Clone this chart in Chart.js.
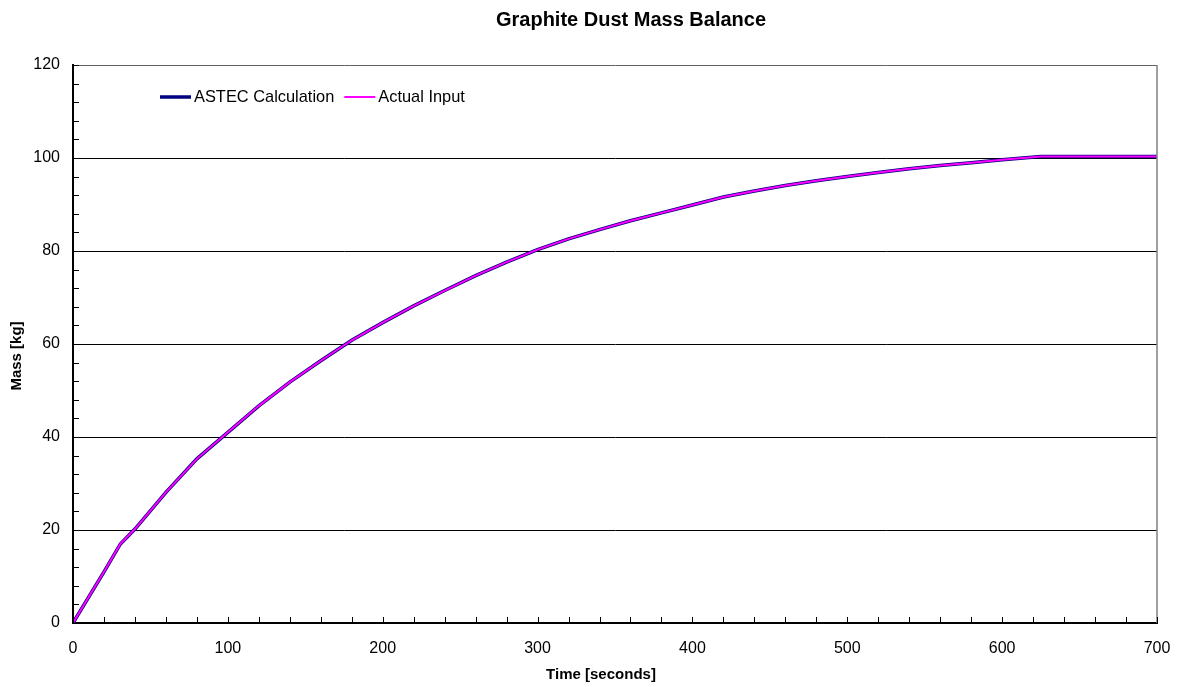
<!DOCTYPE html>
<html>
<head>
<meta charset="utf-8">
<script src="https://cdn.jsdelivr.net/npm/chart.js@4.4.1/dist/chart.umd.min.js"></script>
<style>
  html, body { margin: 0; padding: 0; background: #ffffff; }
  #wrap { width: 1181px; height: 687px; }
</style>
</head>
<body>
<div id="wrap"><canvas id="c" width="1181" height="687"></canvas></div>
<script>
// Time samples (s) and cumulative graphite dust mass (kg)
const timeSeconds = [0, 20, 30.6, 40, 60, 80, 100, 120, 140, 160, 180, 200, 220, 240, 260, 280, 300,
  320, 340, 360, 380, 400, 420, 440, 460, 480, 500, 520, 540, 560, 580, 600, 625, 700];
const astecMass = [0, 11.0, 17.0, 20.2, 28.1, 35.3, 41.0, 46.7, 51.8, 56.4, 60.8, 64.6, 68.2, 71.5, 74.7, 77.6, 80.3,
  82.6, 84.6, 86.5, 88.2, 89.9, 91.6, 92.9, 94.1, 95.1, 96.0, 96.9, 97.7, 98.4, 99.0, 99.6, 100.3, 100.3];
const actualInputMass = [0, 11.0, 17.0, 20.2, 28.1, 35.3, 41.0, 46.7, 51.8, 56.4, 60.8, 64.6, 68.2, 71.5, 74.7, 77.6, 80.3,
  82.6, 84.6, 86.5, 88.2, 89.9, 91.6, 92.9, 94.1, 95.1, 96.0, 96.9, 97.7, 98.4, 99.0, 99.6, 100.3, 100.3];

const xTickValues = [0, 100, 200, 300, 400, 500, 600, 700];
const yTickValues = [0, 20, 40, 60, 80, 100, 120];
const xMinorStep = 20;
const yMinorStep = 4;

const seriesNames = ['ASTEC Calculation', 'Actual Input'];
const chartTitle = 'Graphite Dust Mass Balance';
const xAxisTitle = 'Time [seconds]';
const yAxisTitle = 'Mass [kg]';

const FONT = '"Liberation Sans", Arial, sans-serif';

const toPoints = (ys) => timeSeconds.map((t, i) => ({ x: t, y: ys[i] }));

// Inward minor ticks, the grey frame on the right, legend and titles
const decorations = {
  id: 'decorations',
  afterDraw(chart) {
    const ctx = chart.ctx;
    const area = chart.chartArea;
    const xs = chart.scales.x, ys = chart.scales.y;
    ctx.save();

    // right frame
    ctx.strokeStyle = '#808080';
    ctx.lineWidth = 1.5;
    ctx.beginPath();
    ctx.moveTo(area.right, area.top);
    ctx.lineTo(area.right, area.bottom);
    ctx.stroke();

    // minor ticks
    ctx.strokeStyle = '#000000';
    ctx.lineWidth = 1;
    ctx.beginPath();
    for (let v = ys.min; v <= ys.max; v += yMinorStep) {
      const py = Math.round(ys.getPixelForValue(v)) + 0.5;
      ctx.moveTo(area.left, py);
      ctx.lineTo(area.left + 6, py);
    }
    for (let v = xs.min; v <= xs.max; v += xMinorStep) {
      const px = Math.round(xs.getPixelForValue(v)) + 0.5;
      ctx.moveTo(px, area.bottom);
      ctx.lineTo(px, area.bottom - 6);
    }
    ctx.stroke();

    // legend inside the plot area
    let lx = 160;
    const ly = 97;
    ctx.font = '16.4px ' + FONT;
    ctx.textBaseline = 'middle';
    ctx.textAlign = 'left';
    chart.data.datasets.forEach((ds) => {
      ctx.strokeStyle = ds.borderColor;
      ctx.lineWidth = ds.borderWidth;
      ctx.beginPath();
      ctx.moveTo(lx, ly);
      ctx.lineTo(lx + 31, ly);
      ctx.stroke();
      ctx.fillStyle = '#000000';
      ctx.fillText(ds.label, lx + 34, ly);
      lx += 34 + ctx.measureText(ds.label).width + 10;
    });

    // titles
    ctx.fillStyle = '#000000';
    ctx.textAlign = 'center';
    ctx.font = 'bold 20px ' + FONT;
    ctx.fillText(chartTitle, 631, 20);
    ctx.font = 'bold 15px ' + FONT;
    ctx.fillText(xAxisTitle, 601, 675);
    ctx.translate(17, 356);
    ctx.rotate(-Math.PI / 2);
    ctx.fillText(yAxisTitle, 0, 0);
    ctx.restore();
  }
};

new Chart(document.getElementById('c'), {
  type: 'line',
  data: {
    datasets: [
      {
        label: seriesNames[0],
        data: toPoints(astecMass),
        borderColor: '#000080',
        borderWidth: 3.5,
        pointRadius: 0,
        tension: 0,
        order: 1
      },
      {
        label: seriesNames[1],
        data: toPoints(actualInputMass),
        borderColor: '#ff00ff',
        borderWidth: 2,
        pointRadius: 0,
        tension: 0,
        order: 0
      }
    ]
  },
  options: {
    responsive: false,
    animation: false,
    devicePixelRatio: 1,
    layout: { padding: { left: 0, top: 65, right: 24, bottom: 0 } },
    plugins: {
      legend: { display: false },
      title: { display: false },
      tooltip: { enabled: false }
    },
    scales: {
      x: {
        type: 'linear',
        min: 0,
        max: 700,
        afterBuildTicks: (s) => { s.ticks = xTickValues.map(v => ({ value: v })); },
        afterFit: (s) => { s.height = 64; s.paddingLeft = 0; s.paddingRight = 0; },
        ticks: {
          color: '#000000',
          font: { family: FONT, size: 16 },
          padding: 16,
          maxRotation: 0,
          autoSkip: false
        },
        grid: { drawOnChartArea: false, drawTicks: false },
        border: { display: true, color: '#000000', width: 2 }
      },
      y: {
        min: 0,
        max: 120,
        afterBuildTicks: (s) => { s.ticks = yTickValues.map(v => ({ value: v })); },
        afterFit: (s) => { s.width = 73; s.paddingTop = 0; s.paddingBottom = 0; },
        ticks: {
          color: '#000000',
          font: { family: FONT, size: 16 },
          padding: 13
        },
        grid: {
          drawTicks: false,
          color: (c) => (c.tick && c.tick.value === 120 ? '#606060' : '#000000'),
          lineWidth: 1
        },
        border: { display: true, color: '#000000', width: 2 }
      }
    }
  },
  plugins: [decorations]
});
</script>
</body>
</html>
